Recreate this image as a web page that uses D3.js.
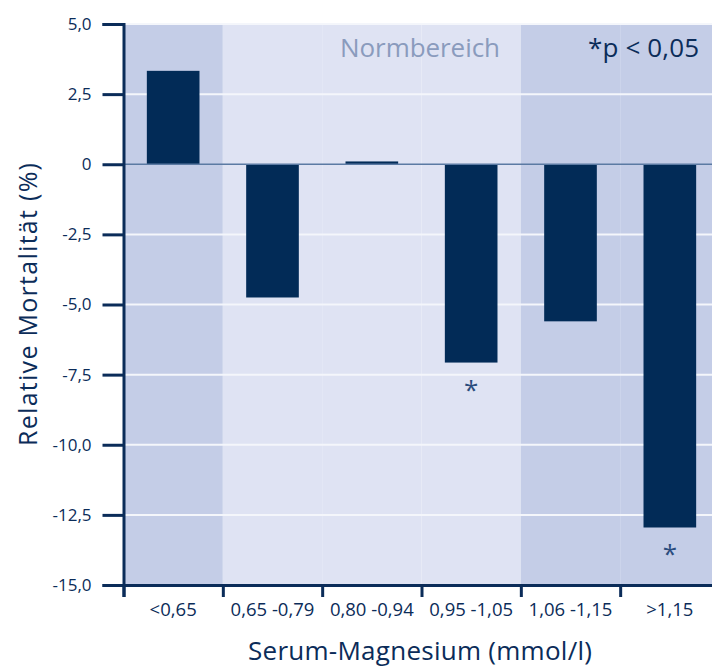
<!DOCTYPE html>
<html><head><meta charset="utf-8">
<script src="https://cdn.jsdelivr.net/npm/d3@7"></script>
<style>
body{margin:0;background:#fff;}
text{font-family:"Open Sans",sans-serif;}
</style></head>
<body>
<svg id="c" width="712" height="667"></svg>
<script>
const categories = ["<0,65","0,65 -0,79","0,80 -0,94","0,95 -1,05","1,06 -1,15",">1,15"];
const values = [3.33, -4.75, 0.1, -7.07, -5.6, -12.95];
const significant = [false, false, false, true, false, true];
const yTicks = [5, 2.5, 0, -2.5, -5, -7.5, -10, -12.5, -15];
const yTickLabels = ["5,0","2,5","0","-2,5","-5,0","-7,5","-10,0","-12,5","-15,0"];
const bandShade = ["dark","light","light","light","dark","dark"];

const navy = "#0b2c59";
const svg = d3.select("#c");
const x0 = 123.5, x1 = 719.5;
const x = d3.scaleBand().domain(categories).range([x0, x1]).paddingInner(0.47).paddingOuter(0.235);
const xb = d3.scaleLinear().domain([0, categories.length]).range([x0, x1]);
const y = d3.scaleLinear().domain([-15, 5]).range([585, 24]);

// background bands
svg.append("g").selectAll("rect").data(categories).join("rect")
  .attr("x", (d,i) => xb(i)).attr("width", (d,i) => xb(i+1) - xb(i))
  .attr("y", y(5)).attr("height", y(-15) - y(5))
  .attr("fill", (d,i) => bandShade[i] === "dark" ? "#c4cde7" : "#dfe3f3");

// gridlines
svg.append("g").selectAll("line").data(yTicks.filter(t => t !== 0 && t !== -15)).join("line")
  .attr("x1", x0).attr("x2", 712).attr("y1", d => y(d)).attr("y2", d => y(d))
  .attr("stroke", "#f4f6fb").attr("stroke-width", 2);

// bars
svg.append("g").selectAll("rect").data(values).join("rect")
  .attr("x", (d,i) => x(categories[i])).attr("width", x.bandwidth())
  .attr("y", d => y(Math.max(0, d))).attr("height", d => Math.abs(y(d) - y(0)))
  .attr("fill", "#022b57");

// zero line
svg.append("line").attr("x1", x0).attr("x2", 712).attr("y1", y(0)).attr("y2", y(0))
  .attr("stroke", "#5b7aa3").attr("stroke-width", 1.5);

// asterisks
svg.append("g").selectAll("text").data(values.map((v,i)=>({v,i})).filter(d => significant[d.i])).join("text")
  .attr("x", d => x(categories[d.i]) + x.bandwidth()/2)
  .attr("y", d => y(d.v) + 36)
  .attr("text-anchor", "middle").attr("font-size", 26).attr("fill", "#2b4c7e")
  .text("*");

// y axis
const yAxis = svg.append("g").attr("transform", `translate(${x0},0)`)
  .call(d3.axisLeft(y).tickValues(yTicks).tickSize(21).tickPadding(11)
    .tickFormat((d,i) => yTickLabels[i]));
yAxis.select(".domain").attr("stroke", navy).attr("stroke-width", 3);
yAxis.selectAll(".tick line").attr("stroke", navy).attr("stroke-width", 3);
yAxis.selectAll(".tick text").attr("fill", navy).attr("font-size", 17).attr("font-family", "Open Sans");

// x axis ticks
const xAxis = svg.append("g").attr("transform", `translate(0,${y(-15)})`)
  .call(d3.axisBottom(xb).tickValues(d3.range(0, categories.length + 1)).tickSize(12).tickFormat(""));
xAxis.select(".domain").attr("stroke", navy).attr("stroke-width", 3);
xAxis.selectAll(".tick line").attr("stroke", navy).attr("stroke-width", 3);

// x labels
const xLab = svg.append("g").attr("transform", `translate(0,${y(-15)})`)
  .call(d3.axisBottom(x).tickSize(0).tickPadding(18));
xLab.select(".domain").remove();
xLab.selectAll(".tick text").attr("fill", navy).attr("font-size", 18.5).attr("font-family", "Open Sans");

// titles
svg.append("text").attr("x", 420).attr("y", 660).attr("text-anchor", "middle")
  .attr("font-size", 26).attr("textLength", 344).attr("lengthAdjust", "spacing")
  .attr("fill", navy).text("Serum-Magnesium (mmol/l)");
svg.append("text").attr("transform", "translate(37,304.5) rotate(-90)").attr("text-anchor", "middle")
  .attr("font-size", 25).attr("textLength", 283).attr("lengthAdjust", "spacing")
  .attr("fill", navy).text("Relative Mortalität (%)");

svg.append("text").attr("x", 420).attr("y", 57).attr("text-anchor", "middle")
  .attr("font-size", 26).attr("textLength", 160).attr("lengthAdjust", "spacing")
  .attr("fill", "#8a9bbd").text("Normbereich");
svg.append("text").attr("x", 699).attr("y", 57).attr("text-anchor", "end")
  .attr("font-size", 26).attr("textLength", 111).attr("lengthAdjust", "spacing")
  .attr("fill", navy).text("*p < 0,05");
</script>
</body></html>
